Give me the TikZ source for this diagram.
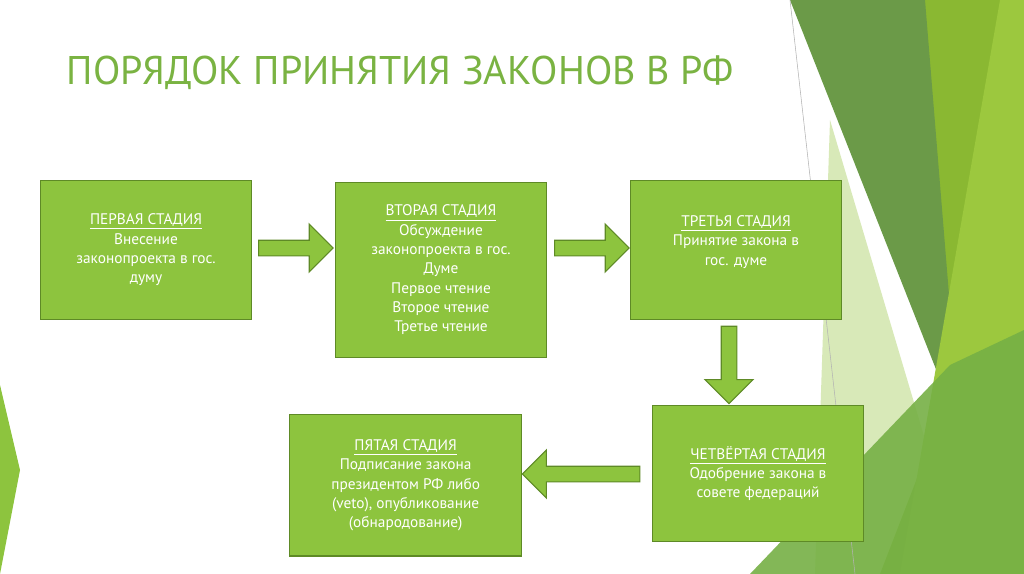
\documentclass[tikz,border=0pt]{standalone}
\usepackage{fontspec}
\setmainfont{PT Sans}
\usetikzlibrary{shapes.arrows}
\definecolor{boxgreen}{HTML}{8DC43E}
\definecolor{boxline}{HTML}{5E8A26}
\definecolor{titlegreen}{HTML}{7AB342}
\definecolor{decoA}{HTML}{8AB832}
\definecolor{decoB}{HTML}{6B9A48}
\definecolor{decoC}{HTML}{9CC83E}
\definecolor{decoD}{HTML}{76B045}
\definecolor{decoPale}{HTML}{D8E9B8}
\tikzset{
  stage/.style={draw=boxline,line width=1pt,fill=boxgreen,text=white,align=center,
    font=\fontsize{11.5pt}{14.5pt}\selectfont,anchor=north west,inner sep=3pt},
  blockarrow/.style={single arrow,draw=boxline,fill=boxgreen,line width=0.8pt,
    minimum height=#1,minimum width=36pt,single arrow head extend=5pt,inner sep=2pt},
}
\newcommand{\stagehead}[1]{\underline{#1}\\}
\begin{document}
\begin{tikzpicture}[x=0.75pt,y=-0.75pt]
   \useasboundingbox (0,0) rectangle (1024,574);
   \fill[white] (0,0) rectangle (1024,574);
   % decoration on the right
   \fill[decoPale] (830,120) -- (965,574) -- (815,574) -- cycle;
   \fill[decoA] (920,0) -- (1024,0) -- (1024,574) -- (880,574) -- (955,380) -- cycle;
   \fill[decoB] (790,0) -- (925,0) -- (960,430) -- cycle;
   \fill[decoC] (1000,0) -- (1024,0) -- (1024,574) -- (900,574) -- cycle;
   \fill[decoD,opacity=.9] (750,574) -- (950,365) -- (1024,330) -- (1024,574) -- cycle;
   \draw[gray!60,line width=.4pt] (790,0) -- (855,574);
   \fill[boxgreen] (0,385) -- (20,470) -- (0,574) -- cycle;
   % title
   \node[anchor=west,text=titlegreen,font=\fontsize{30pt}{34pt}\selectfont] (title) at (62,73) {ПОРЯДОК ПРИНЯТИЯ ЗАКОНОВ В РФ};
   % stages
   \node[stage,minimum width=158pt,minimum height=104pt] (s1) at (40,180)
     {\stagehead{ПЕРВАЯ СТАДИЯ}Внесение\\законопроекта в гос.\\думу};
   \node[stage,minimum width=158pt,minimum height=131pt] (s2) at (335,182)
     {\stagehead{ВТОРАЯ СТАДИЯ}Обсуждение\\законопроекта в гос.\\Думе\\Первое чтение\\Второе чтение\\Третье чтение};
   \node[stage,minimum width=158pt,minimum height=104pt] (s3) at (630,180)
     {\stagehead{ТРЕТЬЯ СТАДИЯ}Принятие закона в\\гос. думе\\ };
   \node[stage,minimum width=158pt,minimum height=102pt] (s4) at (652,405)
     {\stagehead{ЧЕТВЁРТАЯ СТАДИЯ}Одобрение закона в\\совете федераций};
   \node[stage,minimum width=174pt,minimum height=106pt] (s5) at (289,414)
     {\stagehead{ПЯТАЯ СТАДИЯ}Подписание закона\\президентом РФ либо\\(veto), опубликование\\(обнародование)};
   % arrows
   \node[blockarrow=56pt] (a12) at (292,248) {};
   \node[blockarrow=56pt] (a23) at (588,248) {};
   \node[blockarrow=58pt,rotate=-90] (a34) at (729,361) {};
   \node[blockarrow=88pt,rotate=180] (a45) at (585,474) {};
\end{tikzpicture}
\end{document}
